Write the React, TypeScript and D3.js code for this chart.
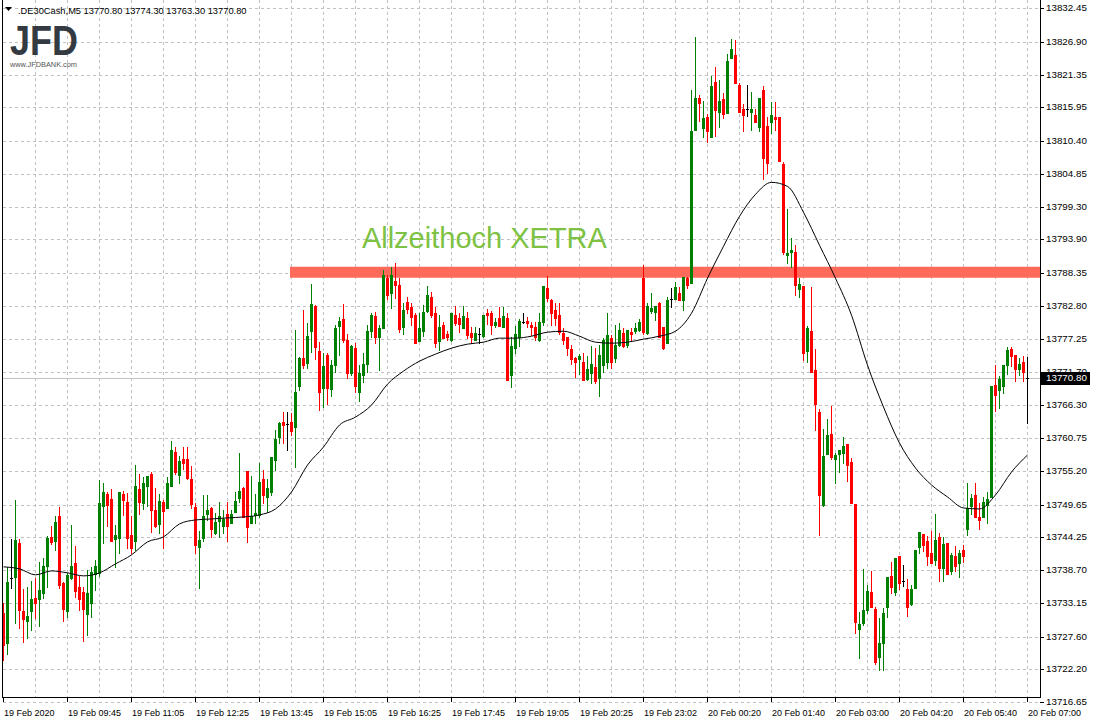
import React from 'react';
import * as d3 from 'd3';

const W = 1093;
const H = 725;

const symbolHeader = '.DE30Cash,M5  13770.80 13774.30 13763.30 13770.80';
const annotationText = 'Allzeithoch XETRA';
const resistancePrice = 13788.42;
const resistanceStartIndex = 72;
const annotationIndex = 89.6;
const annotationPrice = 13792.4;
const lastPrice = 13770.8;

const priceTicks = [
  13832.45, 13826.9, 13821.35, 13815.95, 13810.4, 13804.85, 13799.3, 13793.9, 13788.35, 13782.8,
  13777.25, 13771.7, 13766.3, 13760.75, 13755.2, 13749.65, 13744.25, 13738.7, 13733.15, 13727.6,
  13722.2, 13716.65,
];

const timeLabels = [
  '19 Feb 2020', '19 Feb 09:45', '19 Feb 11:05', '19 Feb 12:25', '19 Feb 13:45', '19 Feb 15:05',
  '19 Feb 16:25', '19 Feb 17:45', '19 Feb 19:05', '19 Feb 20:25', '19 Feb 23:02', '20 Feb 00:20',
  '20 Feb 01:40', '20 Feb 03:00', '20 Feb 04:20', '20 Feb 05:40', '20 Feb 07:00',
];
const labelEvery = 16;

// [open, high, low, close] per 5-minute candle
const candles: [number, number, number, number][] = [
  [13731.58, 13733.25, 13723.75, 13726.25], [13726.58, 13739.25, 13724.75, 13736.75],
  [13737.42, 13743.92, 13735.75, 13737.42], [13737.58, 13750.42, 13729.92, 13743.75],
  [13743.25, 13743.92, 13729.08, 13732.08], [13731.92, 13735.58, 13726.75, 13730.58],
  [13730.25, 13735.92, 13727.42, 13731.08], [13731.92, 13736.92, 13728.75, 13733.92],
  [13734.08, 13737.42, 13730.75, 13733.25], [13733.92, 13740.08, 13729.42, 13735.42],
  [13734.92, 13740.75, 13734.08, 13739.42], [13739.42, 13744.42, 13735.92, 13744.08],
  [13744.25, 13746.08, 13743.08, 13743.42], [13743.58, 13747.75, 13742.08, 13746.75],
  [13747.75, 13749.25, 13735.75, 13736.25], [13736.58, 13736.75, 13730.25, 13732.25],
  [13731.92, 13738.25, 13730.92, 13737.92], [13737.42, 13746.25, 13737.25, 13739.42],
  [13739.92, 13742.75, 13734.25, 13735.25], [13735.92, 13737.75, 13732.08, 13733.92],
  [13735.08, 13735.92, 13726.92, 13732.25], [13731.42, 13738.75, 13727.92, 13734.92],
  [13733.25, 13739.25, 13730.92, 13738.42], [13738.08, 13740.42, 13735.42, 13739.42],
  [13738.25, 13753.75, 13737.75, 13749.92], [13749.42, 13753.25, 13743.25, 13751.75],
  [13751.42, 13751.75, 13746.08, 13749.58], [13750.58, 13752.25, 13743.58, 13743.58],
  [13743.92, 13746.25, 13739.25, 13744.58], [13744.08, 13751.75, 13741.58, 13751.75],
  [13751.42, 13751.92, 13747.92, 13750.42], [13750.08, 13751.58, 13742.42, 13744.08],
  [13744.58, 13747.75, 13741.58, 13742.42], [13743.58, 13756.25, 13742.08, 13752.75],
  [13752.25, 13754.75, 13748.08, 13750.08], [13749.92, 13754.25, 13748.92, 13753.25],
  [13752.75, 13754.42, 13749.42, 13754.42], [13754.75, 13755.08, 13745.08, 13748.75],
  [13748.75, 13752.42, 13745.92, 13746.08], [13746.42, 13751.42, 13744.92, 13750.25],
  [13750.08, 13750.42, 13742.42, 13748.58], [13749.08, 13754.25, 13749.08, 13753.25],
  [13752.75, 13760.25, 13752.75, 13758.75], [13758.42, 13759.25, 13754.75, 13755.08],
  [13754.58, 13757.75, 13753.25, 13756.92], [13757.25, 13759.25, 13755.58, 13756.58],
  [13757.25, 13759.25, 13753.92, 13754.08], [13753.92, 13756.08, 13749.08, 13749.75],
  [13749.25, 13749.92, 13741.58, 13742.92], [13742.58, 13745.25, 13735.75, 13743.75],
  [13744.08, 13751.25, 13743.58, 13747.75], [13748.08, 13751.25, 13747.08, 13748.75],
  [13749.08, 13749.25, 13744.25, 13745.58], [13744.92, 13748.25, 13744.75, 13746.75],
  [13746.92, 13750.08, 13744.25, 13747.75], [13746.08, 13748.75, 13744.92, 13747.25],
  [13748.08, 13750.08, 13743.58, 13746.08], [13746.58, 13748.75, 13746.58, 13748.08],
  [13748.42, 13751.75, 13748.42, 13750.25], [13750.75, 13758.25, 13750.08, 13751.92],
  [13752.42, 13752.58, 13747.58, 13747.58], [13755.25, 13755.25, 13743.42, 13745.92],
  [13746.58, 13754.42, 13746.58, 13747.75], [13747.92, 13751.42, 13746.58, 13748.25],
  [13747.92, 13756.58, 13747.58, 13753.42], [13753.92, 13755.42, 13749.92, 13751.25],
  [13750.92, 13753.92, 13748.42, 13752.42], [13751.75, 13757.58, 13751.25, 13757.58],
  [13757.08, 13762.08, 13755.42, 13760.58], [13760.92, 13763.42, 13759.92, 13763.25],
  [13763.42, 13765.08, 13759.92, 13762.92], [13763.08, 13765.08, 13758.75, 13763.08],
  [13763.42, 13764.92, 13761.25, 13761.92], [13762.58, 13778.75, 13755.92, 13768.42],
  [13769.42, 13774.25, 13768.75, 13774.08], [13774.08, 13782.08, 13772.42, 13772.92],
  [13773.25, 13779.92, 13772.42, 13777.75], [13778.58, 13786.42, 13775.08, 13783.08],
  [13782.75, 13782.92, 13773.92, 13775.92], [13775.25, 13776.75, 13765.42, 13768.42],
  [13769.08, 13774.92, 13765.92, 13772.75], [13774.58, 13774.92, 13766.42, 13769.08],
  [13768.92, 13773.75, 13767.75, 13772.92], [13772.92, 13779.58, 13771.75, 13779.08],
  [13779.42, 13780.92, 13774.58, 13780.25], [13780.58, 13783.08, 13776.75, 13777.08],
  [13777.08, 13778.08, 13770.75, 13771.58], [13771.58, 13776.25, 13771.25, 13776.08],
  [13775.75, 13776.58, 13768.42, 13769.42], [13768.42, 13772.92, 13766.92, 13771.58],
  [13771.25, 13774.92, 13770.08, 13773.08], [13773.08, 13779.58, 13771.75, 13778.58],
  [13778.58, 13781.58, 13777.58, 13781.25], [13781.08, 13781.75, 13776.58, 13777.58],
  [13777.58, 13779.58, 13772.08, 13779.08], [13779.08, 13788.75, 13779.08, 13787.92],
  [13787.42, 13787.92, 13783.92, 13784.58], [13784.92, 13789.25, 13782.42, 13787.92],
  [13786.92, 13789.92, 13784.08, 13786.25], [13786.25, 13787.42, 13778.42, 13778.92],
  [13779.25, 13783.25, 13778.08, 13782.08], [13783.42, 13784.25, 13781.58, 13782.25],
  [13782.58, 13783.25, 13779.58, 13780.92], [13781.25, 13781.58, 13776.58, 13776.58],
  [13776.92, 13781.58, 13776.92, 13779.08], [13778.58, 13782.92, 13777.75, 13781.75],
  [13781.92, 13786.08, 13781.75, 13784.58], [13784.25, 13785.08, 13780.92, 13781.25],
  [13781.58, 13782.58, 13775.92, 13776.58], [13776.92, 13781.25, 13775.42, 13779.25],
  [13779.58, 13780.08, 13777.42, 13777.42], [13778.08, 13778.58, 13777.08, 13777.58],
  [13777.08, 13781.58, 13776.92, 13781.58], [13781.25, 13782.75, 13779.58, 13779.92],
  [13780.75, 13781.58, 13778.42, 13779.75], [13779.08, 13782.75, 13779.08, 13781.08],
  [13780.75, 13781.75, 13777.42, 13777.92], [13778.25, 13779.25, 13776.58, 13777.58],
  [13777.08, 13779.25, 13777.08, 13778.25], [13778.08, 13779.08, 13776.58, 13778.08],
  [13777.75, 13781.25, 13777.58, 13781.25], [13781.58, 13782.25, 13779.75, 13781.25],
  [13781.58, 13781.92, 13778.08, 13779.58], [13779.58, 13780.75, 13779.25, 13780.08],
  [13780.75, 13782.58, 13779.42, 13779.42], [13779.25, 13782.58, 13779.25, 13781.08],
  [13780.75, 13781.58, 13770.42, 13770.42], [13771.25, 13777.58, 13769.25, 13776.08],
  [13775.75, 13779.42, 13774.92, 13778.08], [13777.58, 13780.58, 13776.08, 13780.25],
  [13780.08, 13781.58, 13779.92, 13780.08], [13780.25, 13780.92, 13779.25, 13779.92],
  [13779.58, 13780.08, 13777.92, 13779.25], [13779.25, 13780.08, 13777.08, 13777.58],
  [13777.08, 13781.58, 13776.92, 13780.08], [13780.08, 13786.08, 13779.58, 13786.08],
  [13785.75, 13787.75, 13783.58, 13784.08], [13783.75, 13783.92, 13779.58, 13781.58],
  [13782.08, 13783.25, 13779.58, 13780.75], [13781.25, 13783.25, 13778.08, 13778.42],
  [13778.25, 13779.08, 13776.42, 13777.08], [13777.58, 13777.58, 13774.58, 13775.75],
  [13775.58, 13776.25, 13773.08, 13773.92], [13774.08, 13774.25, 13770.92, 13773.42],
  [13773.92, 13774.75, 13771.42, 13774.42], [13773.42, 13774.92, 13770.42, 13770.42],
  [13770.58, 13774.42, 13770.42, 13772.25], [13771.58, 13776.08, 13769.92, 13773.08],
  [13772.58, 13775.75, 13769.92, 13770.25], [13770.75, 13776.25, 13767.75, 13774.58],
  [13772.92, 13777.42, 13771.75, 13777.08], [13773.42, 13781.58, 13772.42, 13777.92],
  [13777.42, 13777.92, 13772.42, 13773.42], [13774.08, 13779.58, 13773.42, 13776.25],
  [13776.25, 13779.92, 13776.08, 13778.75], [13778.25, 13779.08, 13775.92, 13776.08],
  [13776.25, 13778.75, 13775.92, 13778.75], [13778.42, 13779.08, 13777.08, 13778.08],
  [13778.58, 13779.92, 13778.25, 13779.08], [13778.75, 13780.58, 13778.58, 13780.08],
  [13787.42, 13789.58, 13778.08, 13778.42], [13778.25, 13783.25, 13778.08, 13782.75],
  [13781.92, 13784.92, 13781.58, 13782.42], [13781.75, 13782.75, 13780.42, 13782.75],
  [13783.25, 13783.42, 13777.58, 13777.58], [13779.25, 13779.25, 13775.58, 13775.75],
  [13776.58, 13784.25, 13776.58, 13783.75], [13783.92, 13785.75, 13782.58, 13783.92],
  [13783.92, 13786.75, 13783.92, 13785.92], [13784.92, 13785.92, 13783.75, 13783.75],
  [13783.75, 13787.58, 13782.08, 13787.58], [13787.42, 13787.58, 13785.75, 13786.25],
  [13786.58, 13818.75, 13786.58, 13811.92], [13812.08, 13827.75, 13812.08, 13817.42],
  [13817.58, 13817.92, 13813.58, 13816.58], [13812.42, 13817.08, 13810.92, 13814.08],
  [13814.25, 13814.75, 13810.08, 13811.92], [13810.92, 13821.25, 13810.92, 13819.58],
  [13820.25, 13822.75, 13811.08, 13815.42], [13815.08, 13820.42, 13812.58, 13817.08],
  [13817.25, 13818.25, 13814.08, 13814.75], [13814.92, 13824.92, 13814.92, 13823.75],
  [13824.25, 13827.42, 13824.25, 13825.75], [13824.75, 13827.25, 13820.08, 13820.08],
  [13819.75, 13820.08, 13815.08, 13815.08], [13815.58, 13816.42, 13811.92, 13814.58],
  [13815.58, 13819.75, 13814.42, 13815.58], [13815.08, 13818.42, 13812.08, 13815.58],
  [13814.58, 13815.58, 13813.42, 13813.42], [13812.58, 13817.58, 13811.92, 13817.58],
  [13818.75, 13819.58, 13803.92, 13807.42], [13812.75, 13814.25, 13804.92, 13806.58],
  [13813.42, 13816.75, 13811.58, 13814.58], [13814.25, 13816.75, 13812.08, 13813.92],
  [13814.25, 13814.25, 13806.92, 13806.92], [13806.42, 13806.75, 13791.42, 13791.75],
  [13791.25, 13798.92, 13789.92, 13791.58], [13791.75, 13794.08, 13789.25, 13792.08],
  [13791.75, 13792.92, 13784.58, 13786.25], [13785.58, 13787.42, 13784.25, 13786.42],
  [13786.08, 13786.08, 13773.75, 13774.92], [13775.25, 13779.42, 13773.42, 13779.08],
  [13778.58, 13785.92, 13771.75, 13771.75], [13772.08, 13775.58, 13762.08, 13766.42],
  [13765.08, 13765.58, 13744.58, 13751.25], [13749.58, 13762.25, 13749.42, 13757.75],
  [13758.08, 13763.92, 13758.08, 13761.25], [13761.42, 13766.08, 13757.25, 13757.58],
  [13757.25, 13758.25, 13753.25, 13757.92], [13758.08, 13758.75, 13755.08, 13758.75],
  [13758.25, 13760.92, 13756.58, 13759.42], [13759.75, 13759.75, 13753.58, 13756.25],
  [13756.75, 13757.42, 13749.92, 13749.92], [13749.75, 13749.75, 13728.25, 13730.08],
  [13728.92, 13731.75, 13724.08, 13729.75], [13729.92, 13738.92, 13729.58, 13732.08],
  [13732.08, 13736.25, 13731.58, 13735.25], [13735.08, 13738.58, 13732.58, 13732.58],
  [13732.25, 13732.58, 13723.08, 13723.42], [13724.25, 13730.75, 13722.08, 13726.58],
  [13726.58, 13732.42, 13722.08, 13731.58], [13732.58, 13737.58, 13730.92, 13737.58],
  [13737.75, 13740.08, 13734.92, 13735.92], [13735.08, 13740.75, 13734.58, 13740.75],
  [13741.08, 13741.08, 13735.58, 13736.58], [13736.92, 13739.58, 13736.08, 13736.92],
  [13735.58, 13737.25, 13731.08, 13732.58], [13733.08, 13736.25, 13732.92, 13735.58],
  [13735.75, 13742.08, 13735.75, 13742.08], [13742.58, 13745.08, 13741.58, 13745.08],
  [13744.75, 13744.75, 13741.92, 13742.92], [13743.58, 13744.42, 13739.58, 13741.08],
  [13741.58, 13745.25, 13739.92, 13739.92], [13740.42, 13748.08, 13739.58, 13743.75],
  [13744.25, 13744.92, 13736.92, 13739.08], [13739.08, 13744.25, 13736.92, 13743.08],
  [13743.25, 13743.25, 13738.08, 13738.08], [13738.58, 13741.58, 13738.08, 13741.25],
  [13741.08, 13742.75, 13738.58, 13739.42], [13739.92, 13742.08, 13737.58, 13741.58],
  [13742.08, 13742.92, 13740.08, 13741.08], [13745.58, 13753.25, 13744.58, 13749.08],
  [13749.42, 13751.42, 13748.08, 13750.75], [13751.25, 13753.25, 13747.58, 13747.58],
  [13747.58, 13749.92, 13745.58, 13747.08], [13747.58, 13750.92, 13747.58, 13750.08],
  [13749.58, 13751.75, 13746.58, 13750.58], [13750.92, 13769.42, 13750.92, 13769.42],
  [13769.58, 13772.92, 13765.25, 13767.92], [13768.75, 13771.08, 13765.75, 13770.58],
  [13769.42, 13772.92, 13768.25, 13772.92], [13772.92, 13775.92, 13771.42, 13775.42],
  [13775.58, 13775.92, 13772.75, 13774.42], [13774.58, 13774.58, 13770.25, 13772.25],
  [13772.25, 13774.08, 13771.25, 13773.08], [13773.42, 13774.42, 13770.25, 13771.75],
  [13770.8, 13774.3, 13763.3, 13770.8],
];

// moving average read every 4 candles
const maEvery = 4;
const movingAverage = [
  13739.25, 13738.92, 13737.92, 13738.58, 13738.25, 13737.75, 13738.25, 13739.75, 13741.25, 13743.42,
  13744.25, 13746.42, 13747.08, 13747.25, 13747.42, 13747.58, 13747.92, 13748.92, 13751.75, 13756.25,
  13759.25, 13762.92, 13764.25, 13766.25, 13769.75, 13771.92, 13773.58, 13774.75, 13775.75, 13776.42,
  13776.75, 13777.42, 13777.42, 13777.75, 13778.42, 13778.58, 13777.75, 13776.75, 13776.58, 13776.75,
  13777.25, 13777.75, 13778.58, 13781.58, 13787.42, 13792.75, 13797.75, 13801.42, 13803.42, 13802.75,
  13798.42, 13792.92, 13787.42, 13781.25, 13772.92, 13765.92, 13759.92, 13755.75, 13752.92, 13750.92,
  13749.08, 13748.92, 13751.25, 13755.08, 13757.92,
];

const FONT = "'Liberation Sans', Arial, sans-serif";

export default function App() {
  const n = candles.length;
  const x = d3.scaleLinear().domain([0, n - 1]).range([3.5, 1027.5]);
  const y = d3.scaleLinear().domain([13716.65, 13832.45]).range([702.3, 8.4]);
  const plotRight = 1040;
  const plotBottom = 697;

  const maLine = d3
    .line<number>()
    .x((_, k) => x(k * maEvery))
    .y((d) => y(d))
    .curve(d3.curveMonotoneX);

  const py = (p: number) => Math.round(y(p));
  const lastY = py(lastPrice);

  return (
    <svg
      width={W}
      height={H}
      style={{ position: 'absolute', left: 0, top: 0, display: 'block', background: '#fff' }}
      fontFamily={FONT}
    >
      <rect width={W} height={H} fill="#fff" />
      {/* grid */}
      <g stroke="#c0c0c0" strokeWidth={1} strokeDasharray="3,3" shapeRendering="crispEdges">
        {priceTicks.map((p) => (
          <line key={'h' + p} x1={3} x2={plotRight} y1={py(p) + 0.5} y2={py(p) + 0.5} />
        ))}
        {d3.range(8, n, 8).map((i) => (
          <line key={'v' + i} x1={Math.floor(x(i)) + 0.5} x2={Math.floor(x(i)) + 0.5} y1={0} y2={plotBottom} />
        ))}
      </g>
      {/* last price line */}
      <line x1={3} x2={plotRight} y1={lastY + 0.5} y2={lastY + 0.5} stroke="#c0c0c0" shapeRendering="crispEdges" />

      {/* resistance band */}
      <line
        x1={x(resistanceStartIndex) - 1.5}
        x2={plotRight}
        y1={y(resistancePrice)}
        y2={y(resistancePrice)}
        stroke="#ff6a5a"
        strokeWidth={11}
      />
      <text x={x(annotationIndex)} y={y(annotationPrice)} fontSize={29} fill="#7dc242" fontFamily={FONT}>
        {annotationText}
      </text>

      {/* candles */}
      <g shapeRendering="crispEdges">
        {candles.map(([o, h, l, c], i) => {
          const color = c > o ? '#008000' : c < o ? '#ff0000' : '#000000';
          const cx = Math.floor(x(i));
          const yTop = py(Math.max(o, c));
          const yBot = py(Math.min(o, c));
          return (
            <g key={i}>
              <rect x={cx} y={py(h)} width={1} height={Math.max(1, py(l) - py(h) + 1)} fill={color} />
              <rect x={cx - 1} y={yTop} width={3} height={c === o ? 1 : Math.max(1, yBot - yTop + 1)} fill={color} />
            </g>
          );
        })}
      </g>

      {/* moving average */}
      <path d={maLine(movingAverage) || ''} fill="none" stroke="#000" strokeWidth={1} />

      {/* frame */}
      <g stroke="#000" strokeWidth={1} shapeRendering="crispEdges">
        <line x1={2.5} x2={2.5} y1={0} y2={plotBottom + 0.5} />
        <line x1={2} x2={plotRight + 1} y1={plotBottom + 0.5} y2={plotBottom + 0.5} />
        <line x1={plotRight + 0.5} x2={plotRight + 0.5} y1={0} y2={plotBottom + 0.5} />
      </g>

      {/* price axis */}
      <g fontSize={9.8} fill="#000">
        {priceTicks.map((p) => (
          <g key={'pt' + p}>
            <line x1={plotRight} x2={plotRight + 4} y1={py(p) + 0.5} y2={py(p) + 0.5} stroke="#000" shapeRendering="crispEdges" />
            {Math.abs(py(p) - lastY) > 4 ? (
              <text x={plotRight + 6} y={py(p)} dy="0.35em">
                {p.toFixed(2)}
              </text>
            ) : (
              <text x={plotRight + 6} y={lastY - 6}>
                {p.toFixed(2)}
              </text>
            )}
          </g>
        ))}
        <rect x={plotRight + 1} y={lastY - 6} width={W - plotRight - 4} height={13} fill="#000" />
        <text x={plotRight + 6} y={lastY} dy="0.35em" fill="#fff">
          {lastPrice.toFixed(2)}
        </text>
      </g>

      {/* time axis */}
      <g fontSize={9} fill="#000">
        {timeLabels.map((t, k) => {
          const xi = Math.floor(x(k * labelEvery));
          return (
            <g key={t}>
              <line x1={xi + 0.5} x2={xi + 0.5} y1={plotBottom} y2={plotBottom + 5} stroke="#000" shapeRendering="crispEdges" />
              <text x={xi + 1} y={716}>
                {t}
              </text>
            </g>
          );
        })}
      </g>

      {/* header */}
      <path d="M5,7 L12,7 L8.5,11 Z" fill="#000" />
      <text x={18} y={14} fontSize={9.3} fill="#000">
        {symbolHeader}
      </text>

      {/* logo */}
      <text x={10} y={55} fontSize={43} fontWeight="bold" fill="#343a42" textLength={68} lengthAdjust="spacingAndGlyphs">
        JFD
      </text>
      <text x={10} y={67} fontSize={7} fill="#555" textLength={67} lengthAdjust="spacingAndGlyphs">
        www.JFDBANK.com
      </text>
    </svg>
  );
}
